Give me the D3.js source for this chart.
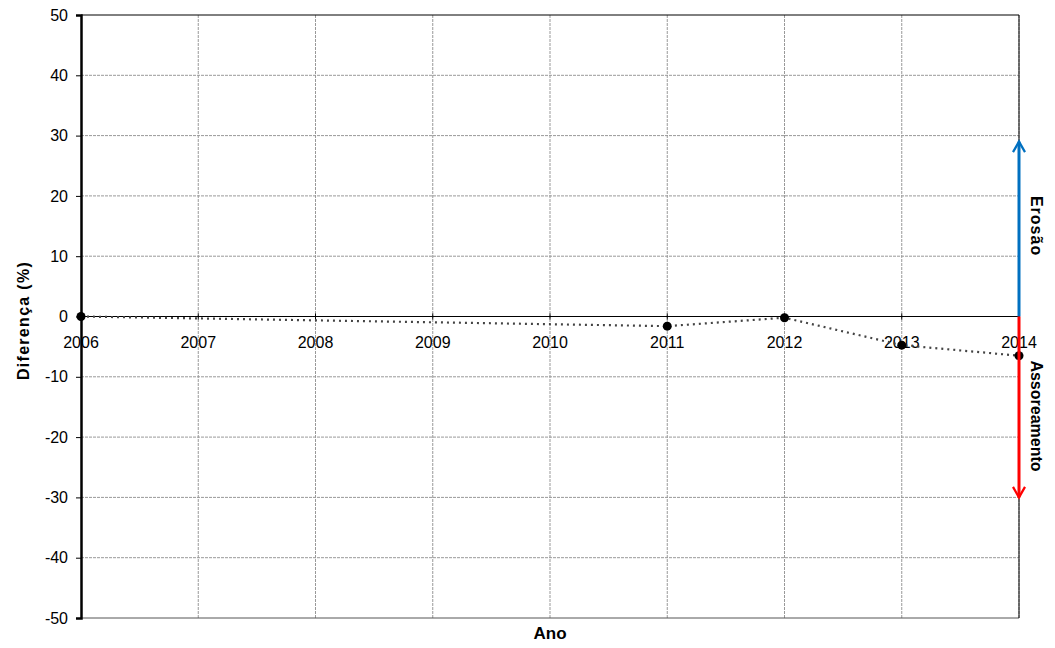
<!DOCTYPE html>
<html>
<head>
<meta charset="utf-8">
<script src="https://cdn.jsdelivr.net/npm/d3@7"></script>
<style>
  body { margin: 0; background: #fff; }
  text { font-family: "Liberation Sans", Arial, sans-serif; }
</style>
</head>
<body>
<div id="chart"></div>
<script>
// data
var years = [2006, 2007, 2008, 2009, 2010, 2011, 2012, 2013, 2014];
var pointYears = [2006, 2011, 2012, 2013, 2014];
var pointValues = [0, -1.6, -0.2, -4.75, -6.5];
var yTicks = [-50, -40, -30, -20, -10, 0, 10, 20, 30, 40, 50];
var erosaoTop = 29, assoreamentoBottom = -30;

var width = 1055, height = 648;
var plotLeft = 81, plotRight = 1019, plotTop = 15, plotBottom = 618;

var svg = d3.select("#chart").append("svg")
    .attr("width", width)
    .attr("height", height);

var x = d3.scaleLinear().domain([2006, 2014]).range([plotLeft, plotRight]);
var y = d3.scaleLinear().domain([-50, 50]).range([plotBottom, plotTop]);

// grid
svg.append("g").selectAll("line")
    .data(yTicks.filter(function(d) { return d != 0 && d != 50 && d != -50; }))
  .enter().append("line")
    .attr("x1", plotLeft).attr("x2", plotRight)
    .attr("y1", function(d) { return y(d); })
    .attr("y2", function(d) { return y(d); })
    .attr("stroke", "#999")
    .attr("stroke-dasharray", "3,1");

svg.append("g").selectAll("line")
    .data(years.slice(1))
  .enter().append("line")
    .attr("x1", function(d) { return x(d); })
    .attr("x2", function(d) { return x(d); })
    .attr("y1", plotTop).attr("y2", plotBottom)
    .attr("stroke", "#999")
    .attr("stroke-dasharray", "3,1");

// frame
svg.append("line").attr("x1", plotLeft).attr("x2", plotRight).attr("y1", plotTop).attr("y2", plotTop)
    .attr("stroke", "#000").attr("stroke-width", 1);
svg.append("line").attr("x1", plotLeft).attr("x2", plotRight).attr("y1", plotBottom).attr("y2", plotBottom)
    .attr("stroke", "#555").attr("stroke-width", 1);
svg.append("line").attr("x1", plotRight).attr("x2", plotRight).attr("y1", plotTop).attr("y2", plotBottom)
    .attr("stroke", "#000").attr("stroke-width", 1);

// zero line + ticks
svg.append("line").attr("x1", plotLeft).attr("x2", plotRight).attr("y1", y(0)).attr("y2", y(0))
    .attr("stroke", "#000").attr("stroke-width", 1.2);
svg.append("g").selectAll("line")
    .data(years)
  .enter().append("line")
    .attr("x1", function(d) { return x(d); })
    .attr("x2", function(d) { return x(d); })
    .attr("y1", y(0) - 3).attr("y2", y(0) + 3)
    .attr("stroke", "#000");

// y axis
var yAxis = svg.append("g")
    .attr("transform", "translate(" + plotLeft + ",0)")
    .call(d3.axisLeft(y).tickValues(yTicks).tickSize(5).tickPadding(8)
      .tickFormat(function(d) { return String(d); }));
yAxis.select(".domain").attr("stroke-width", 2.5);
yAxis.selectAll("text").attr("font-size", 16).attr("fill", "#000")
    .attr("font-family", "Liberation Sans, Arial, sans-serif");

// year labels
svg.append("g").selectAll("text")
    .data(years)
  .enter().append("text")
    .attr("x", function(d) { return x(d); })
    .attr("y", y(0) + 31)
    .attr("text-anchor", "middle")
    .attr("font-size", 16)
    .text(function(d) { return d; });

// series
var pts = pointYears.map(function(d, i) { return [d, pointValues[i]]; });
var line = d3.line()
    .x(function(d) { return x(d[0]); })
    .y(function(d) { return y(d[1]); });

svg.append("path")
    .datum(pts)
    .attr("d", line)
    .attr("fill", "none")
    .attr("stroke", "#444")
    .attr("stroke-width", 2.2)
    .attr("stroke-dasharray", "2,4");

svg.append("g").selectAll("circle")
    .data(pts)
  .enter().append("circle")
    .attr("cx", function(d) { return x(d[0]); })
    .attr("cy", function(d) { return y(d[1]); })
    .attr("r", 4.5)
    .attr("fill", "#000");

// arrows
var defs = svg.append("defs");
function marker(id, color) {
  defs.append("marker")
      .attr("id", id)
      .attr("viewBox", "0 0 10 10")
      .attr("refX", 8).attr("refY", 5)
      .attr("markerWidth", 5).attr("markerHeight", 5)
      .attr("markerUnits", "strokeWidth")
      .attr("orient", "auto")
    .append("path")
      .attr("d", "M1,1 L8,5 L1,9")
      .attr("fill", "none")
      .attr("stroke", color)
      .attr("stroke-width", 1.5);
}
marker("arrBlue", "#0070C0");
marker("arrRed", "#FF0000");

svg.append("line")
    .attr("x1", plotRight).attr("x2", plotRight)
    .attr("y1", y(0)).attr("y2", y(erosaoTop))
    .attr("stroke", "#0070C0").attr("stroke-width", 3)
    .attr("marker-end", "url(#arrBlue)");
svg.append("line")
    .attr("x1", plotRight).attr("x2", plotRight)
    .attr("y1", y(0)).attr("y2", y(assoreamentoBottom))
    .attr("stroke", "#FF0000").attr("stroke-width", 3)
    .attr("marker-end", "url(#arrRed)");

svg.append("text")
    .attr("transform", "translate(1031," + y(15) + ")rotate(90)")
    .attr("text-anchor", "middle")
    .attr("font-size", 16).attr("font-weight", "bold")
    .attr("letter-spacing", 1)
    .text("Erosão");
svg.append("text")
    .attr("transform", "translate(1031," + y(-16.5) + ")rotate(90)")
    .attr("text-anchor", "middle")
    .attr("font-size", 16).attr("font-weight", "bold")
    .text("Assoreamento");

// axis titles
svg.append("text")
    .attr("transform", "translate(29," + (y(0) + 4) + ")rotate(-90)")
    .attr("text-anchor", "middle")
    .attr("font-size", 16).attr("font-weight", "bold")
    .attr("letter-spacing", 1.3)
    .text("Diferença (%)");
svg.append("text")
    .attr("x", (plotLeft + plotRight) / 2)
    .attr("y", 639)
    .attr("text-anchor", "middle")
    .attr("font-size", 17).attr("font-weight", "bold")
    .text("Ano");
</script>
</body>
</html>
